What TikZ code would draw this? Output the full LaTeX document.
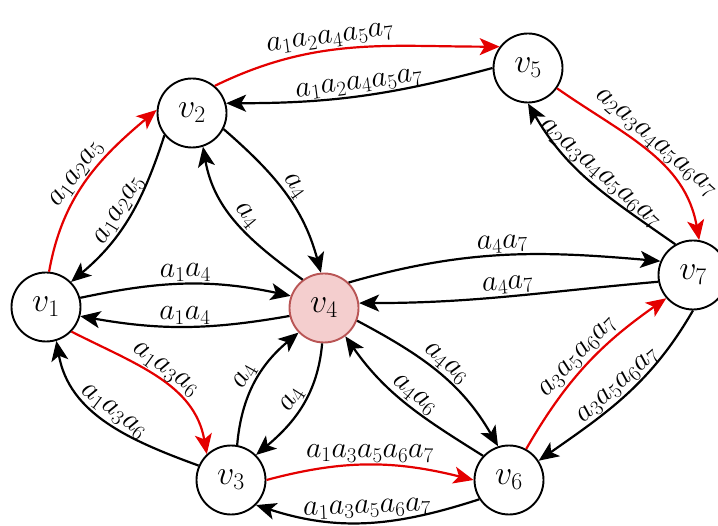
\RequirePackage{fix-cm}
\documentclass[tikz,border=0pt]{standalone}
\usetikzlibrary{arrows.meta}
\definecolor{myred}{RGB}{228,0,0}
\definecolor{pinkfill}{RGB}{244,206,206}
\definecolor{pinkdraw}{RGB}{185,85,85}
\begin{document}
\begin{tikzpicture}[x=1pt,y=1pt,
  vtx/.style={circle,draw,line width=1.9pt,minimum size=69pt,inner sep=0pt,fill=white,font=\fontsize{34}{38}\selectfont},
  arr/.style={line width=2.2pt,-{Stealth[length=20pt,width=17pt,inset=5pt]}},
  rarr/.style={arr,draw=myred},
  lab/.style={sloped,above,inner sep=1.5pt,font=\fontsize{30}{32}\selectfont,text=black}]
\useasboundingbox (0,0) rectangle (718,-526);
\node[vtx] (v1) at (46,-307) {$v_1$};
\node[vtx] (v2) at (192,-113) {$v_2$};
\node[vtx] (v3) at (231,-480) {$v_3$};
\node[vtx,fill=pinkfill,draw=pinkdraw] (v4) at (324,-308) {$v_4$};
\node[vtx] (v5) at (528,-68) {$v_5$};
\node[vtx] (v6) at (509,-480) {$v_6$};
\node[vtx] (v7) at (693,-275) {$v_7$};
% v1 - v2
\draw[rarr] (v1.85) to[out=80,in=220] node[lab]{$a_1a_2a_5$} (v2.175);
\draw[arr] (v2.219) to[out=252,in=40] node[lab]{$a_1a_2a_5$} (v1.45);
% v2 - v5
\draw[rarr] (v2.50) to[out=26,in=180] node[lab,pos=0.42]{$a_1a_2a_4a_5a_7$} (v5.143);
\draw[arr] (v5.180) to[out=195,in=0] node[lab]{$a_1a_2a_4a_5a_7$} (v2.16);
% v2 - v4
\draw[arr] (v2.-27) to[out=-41,in=105] node[lab]{$a_4$} (v4.95);
\draw[arr] (v4.127) to[out=144,in=-80] node[lab]{$a_4$} (v2.-72);
% v1 - v4
\draw[arr] (v1.15) to[out=12,in=168] node[lab]{$a_1a_4$} (v4.160);
\draw[arr] (v4.193) to[out=190,in=-10] node[lab]{$a_1a_4$} (v1.-15);
% v1 - v3
\draw[rarr] (v1.-44) to[out=-27,in=100] node[lab]{$a_1a_3a_6$} (v3.133);
\draw[arr] (v3.156) to[out=160,in=-80] node[lab]{$a_1a_3a_6$} (v1.-73);
% v3 - v4
\draw[arr] (v3.80) to[out=85,in=220] node[lab]{$a_4$} (v4.-136);
\draw[arr] (v4.-93) to[out=-95,in=40] node[lab]{$a_4$} (v3.45);
% v3 - v6
\draw[rarr] (v3.0) to[out=15,in=166] node[lab]{$a_1a_3a_5a_6a_7$} (v6.180);
\draw[arr] (v6.213) to[out=198,in=-18] node[lab,inner sep=3.5pt]{$a_1a_3a_5a_6a_7$} (v3.-45);
% v4 - v7
\draw[arr] (v4.46) to[out=16,in=175] node[lab]{$a_4a_7$} (v7.157);
\draw[arr] (v7.191) to[out=185,in=0] node[lab]{$a_4a_7$} (v4.8);
% v4 - v6
\draw[arr] (v4.-21) to[out=-28,in=120] node[lab]{$a_4a_6$} (v6.108);
\draw[arr] (v6.137) to[out=148,in=-55] node[lab]{$a_4a_6$} (v4.-53);
% v6 - v7
\draw[rarr] (v6.61) to[out=60,in=215] node[lab]{$a_3a_5a_6a_7$} (v7.-139);
\draw[arr] (v7.-90) to[out=-120,in=35] node[lab]{$a_3a_5a_6a_7$} (v6.33);
% v5 - v7
\draw[rarr] (v5.-35) to[out=-35,in=100] node[lab]{$a_2a_3a_4a_5a_6a_7$} (v7.80);
\draw[arr] (v7.120) to[out=145,in=-60] node[lab]{$a_2a_3a_4a_5a_6a_7$} (v5.-90);
\end{tikzpicture}
\end{document}
